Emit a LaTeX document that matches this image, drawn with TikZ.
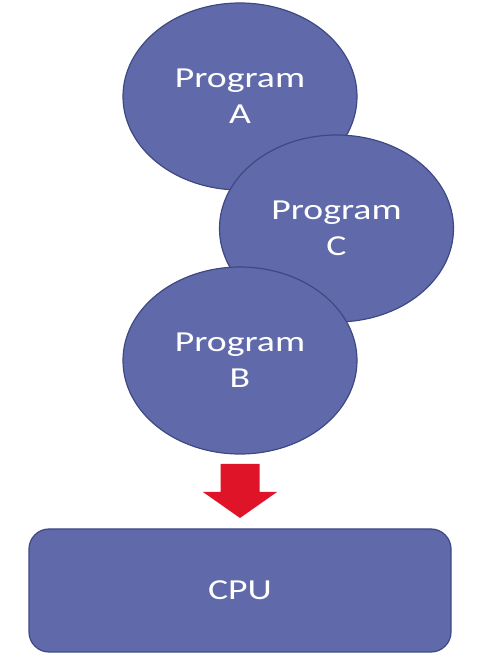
\documentclass[tikz,border=0pt]{standalone}
\usepackage{fontspec}
\setmainfont{Carlito}
\newfontfamily\labelfont[FakeStretch=1.3]{Carlito}
\usepackage{tikz}
\usetikzlibrary{shapes,positioning}

\definecolor{progfill}{RGB}{96,106,171}
\definecolor{progline}{RGB}{62,72,130}
\definecolor{arrowred}{RGB}{224,20,40}

\begin{document}
\begin{tikzpicture}[x=1pt,y=1pt,
                    font=\labelfont\fontsize{29}{36}\selectfont,text=white]
  \tikzstyle{prog}=[ellipse,fill=progfill,draw=progline,line width=1.2pt,
                    minimum width=234pt,minimum height=187pt,align=center]
  \tikzstyle{cpu}=[rectangle,rounded corners=20pt,fill=progfill,draw=progline,
                   line width=1.2pt,minimum width=422pt,minimum height=123pt]

  \useasboundingbox (0,0) rectangle (480,657);

  \node[prog]		(A)  at (240,560.5)		{Program\\A};
  \node[prog]		(C)  at (336.5,428.5)		{Program\\C};
  \node[prog]		(B)  at (240,296.5)		{Program\\B};
  \node[cpu]		(CPU) at (240,66.5)		{CPU};

  % block arrow from B down to the CPU
  \fill[arrowred] (220.5,193) -- (259.5,193) -- (259.5,165) -- (277,165)
       -- (240,139) -- (203,165) -- (220.5,165) -- cycle;
\end{tikzpicture}
\end{document}
